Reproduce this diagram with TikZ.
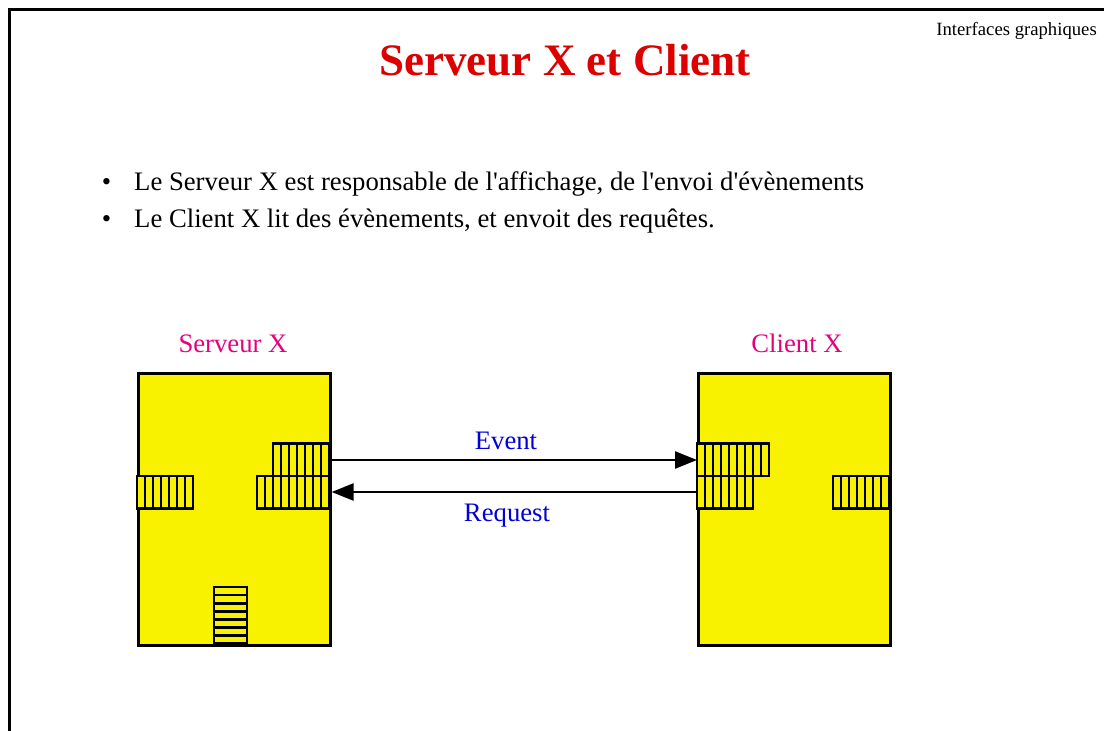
\documentclass[tikz,border=0pt]{standalone}
\usepackage{fontspec}
\setmainfont{Liberation Serif}[Ligatures=TeXOff]
\usetikzlibrary{arrows.meta}
\definecolor{boxyellow}{RGB}{248,242,0}
\definecolor{labpink}{RGB}{230,0,126}
\definecolor{labblue}{RGB}{0,0,215}
\definecolor{titlered}{RGB}{220,0,0}
\tikzset{
  hostbox/.style={draw, line width=2.6pt, fill=boxyellow, minimum width=192pt, minimum height=272pt, inner sep=0pt, anchor=north west},
  qcell/.style={draw, line width=2.6pt, fill=boxyellow},
  hostlabel/.style={text=labpink, font=\fontsize{26.7}{30}\selectfont, anchor=base, inner sep=0pt},
  msglabel/.style={text=labblue, font=\fontsize{26.7}{30}\selectfont, anchor=base, inner sep=0pt},
  msgarrow/.style={line width=2.4pt, -{Triangle[length=22pt,width=17pt]}},
  bodytext/.style={font=\fontsize{26.7}{30}\selectfont, anchor=base west, inner sep=0pt}
}
\newcommand{\hqueue}[3]{% x, y (top-left), n cells
  \foreach \k in {1,...,#3}{\draw[qcell] ({#1+(\k-1)*8},#2) rectangle ++(8,32.5);}}
\newcommand{\vqueue}[3]{%
  \foreach \k in {1,...,#3}{\draw[qcell] (#1,{#2+(\k-1)*8.1}) rectangle ++(33,8.1);}}
\begin{document}
\begin{tikzpicture}[x=1pt,y=-1pt]
\useasboundingbox (0,0) rectangle (1104,731);
% frame
\draw[line width=3pt] (9.5,735) -- (9.5,9.5) -- (1108,9.5);
% header and title
\node[font=\fontsize{18.7}{20}\selectfont, anchor=base east, inner sep=0pt] (hdr) at (1097,35) {Interfaces graphiques};
\node[font=\bfseries\fontsize{45}{50}\selectfont, text=titlered, anchor=base, inner sep=0pt] (title) at (565,75) {Serveur X et Client};
% bullets
\node[bodytext] (b1) at (134,190) {Le Serveur X est responsable de l'affichage, de l'envoi d'évènements};
\node[bodytext] (b2) at (134,227) {Le Client X lit des évènements, et envoit des requêtes.};
\node[font=\fontsize{26.7}{30}\selectfont, anchor=base, inner sep=0pt] (d1) at (106.5,190) {•};
\node[font=\fontsize{26.7}{30}\selectfont, anchor=base, inner sep=0pt] (d2) at (106.5,227) {•};
% hosts
\node[hostbox] (server) at (137,372) {};
\node[hostbox] (client) at (697,372) {};
\node[hostlabel] (sl) at (233,352) {Serveur X};
\node[hostlabel] (cl) at (797,352) {Client X};
% queues server
\hqueue{137}{476}{7}
\hqueue{257}{476}{9}
\hqueue{273}{443.5}{7}
\vqueue{214}{587}{7}
% queues client
\hqueue{697}{443.5}{9}
\hqueue{697}{476}{7}
\hqueue{833}{476}{7}
% arrows
\coordinate (evs) at (server.east |- 0,460);
\coordinate (evt) at (client.west |- 0,460);
\coordinate (rqs) at (client.west |- 0,492);
\coordinate (rqt) at (server.east |- 0,492);
\draw[msgarrow] (evs) -- (evt);
\draw[msgarrow] (rqs) -- (rqt);
\node[msglabel] (ev) at (506,449) {Event};
\node[msglabel] (rq) at (507,521) {Request};
\end{tikzpicture}
\end{document}
